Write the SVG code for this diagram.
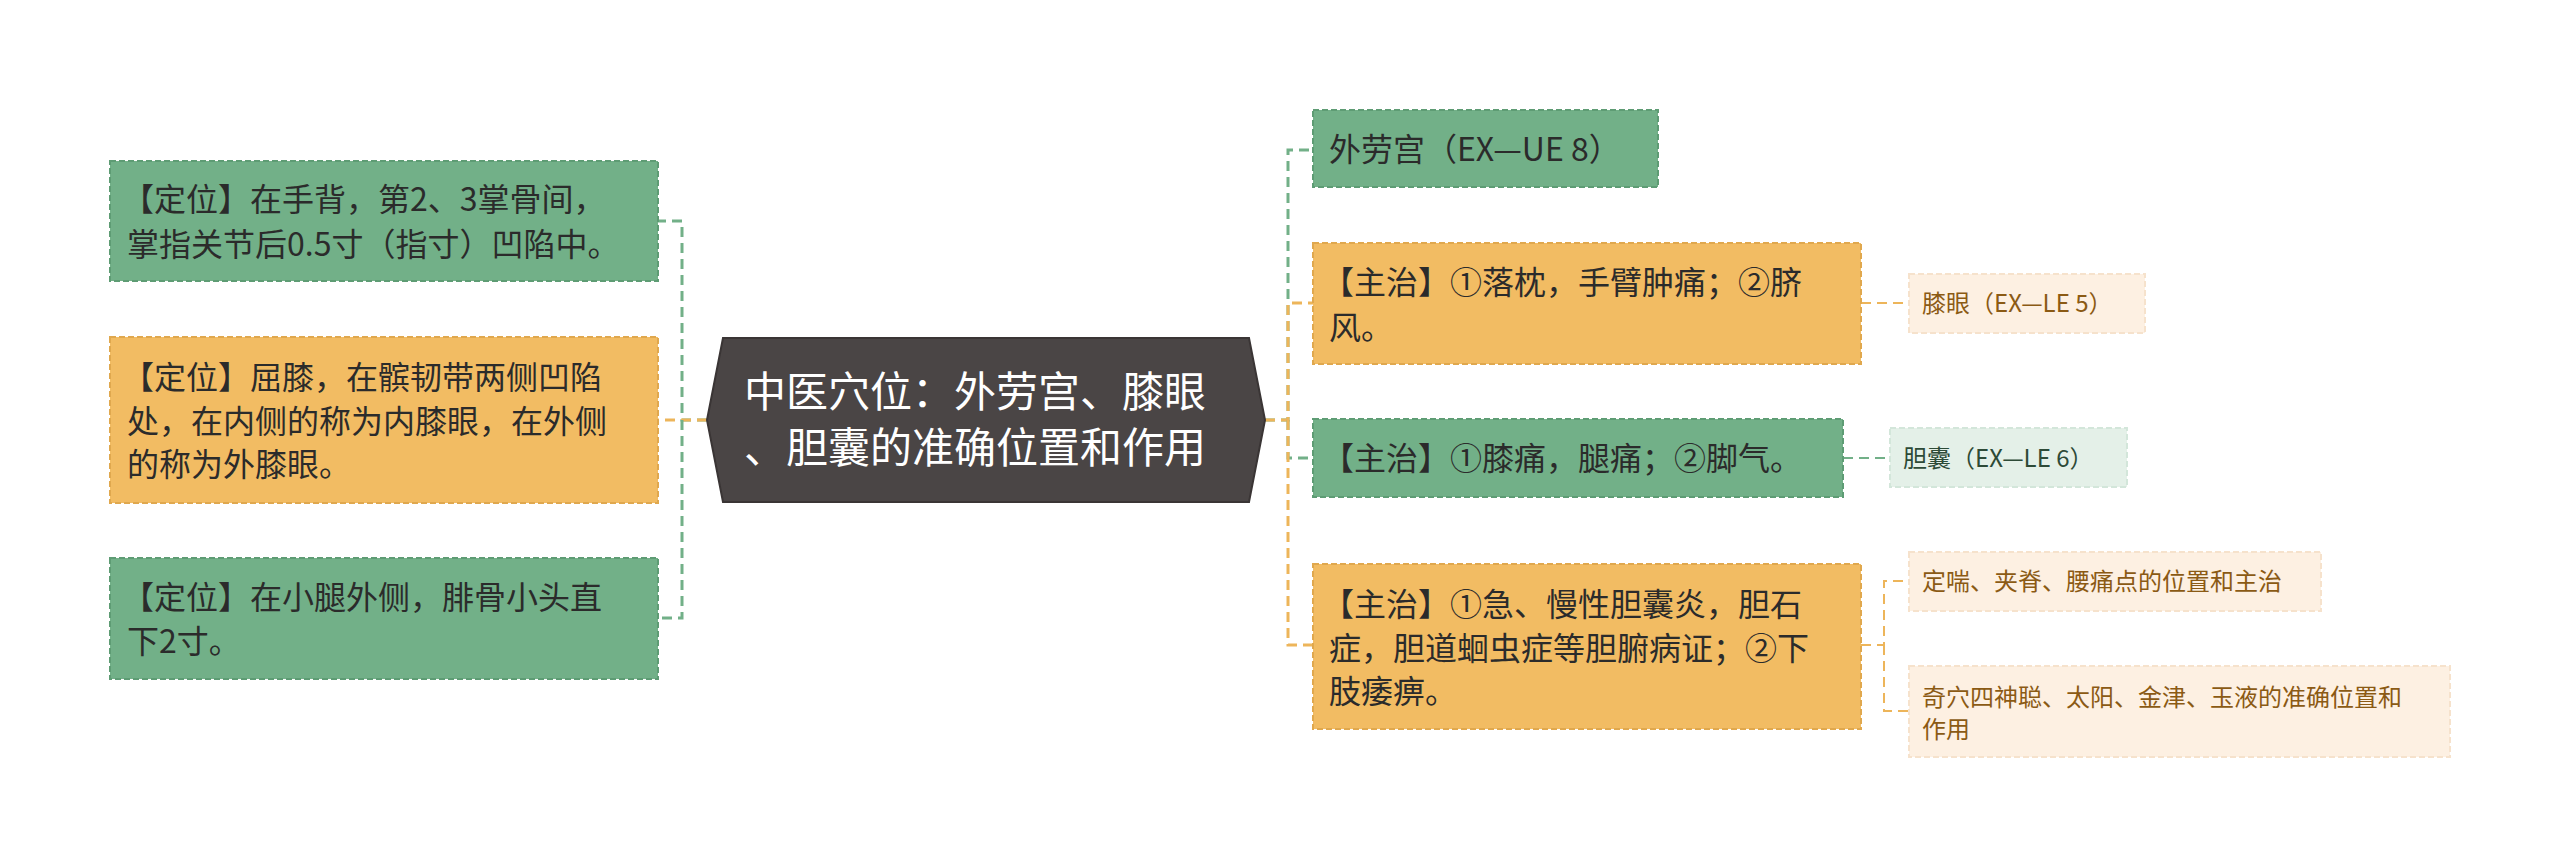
<svg xmlns="http://www.w3.org/2000/svg" width="2560" height="868" viewBox="0 0 2560 868">
<style>
text{font-family:"Noto Sans CJK SC","Liberation Sans",sans-serif;}
.g{fill:#72B088;stroke:#5E9C74;stroke-width:2;stroke-dasharray:6 3}
.o{fill:#F2BC63;stroke:#E0A84E;stroke-width:2;stroke-dasharray:6 3}
.lo{fill:#FDF0E2;stroke:#F6E2CC;stroke-width:2;stroke-dasharray:6 3}
.lg{fill:#E4F0E8;stroke:#D3E6DA;stroke-width:2;stroke-dasharray:6 3}
.t{font-size:32px;fill:#2B2B2B}
.s{font-size:24px}
.cg{fill:none;stroke:#72B088;stroke-width:3;stroke-dasharray:10 6}
.co{fill:none;stroke:#EDB55A;stroke-width:3;stroke-dasharray:10 6}
.cgs{fill:none;stroke:#72B088;stroke-width:2;stroke-dasharray:10 6}
.cos{fill:none;stroke:#EDB55A;stroke-width:2;stroke-dasharray:10 6}
</style>
<rect width="2560" height="868" fill="#ffffff"/>
<g id="connectors">
<path class="cg" d="M707 420H682V221H658"/>
<path class="co" d="M707 420H658"/>
<path class="cg" d="M682 420V618H658"/>
<path class="cg" d="M1265 420H1288V150H1313"/>
<path class="co" d="M1265 420H1288V303H1313"/>
<path class="cg" d="M1288 420V458H1313"/>
<path class="co" d="M1288 420V645H1313"/>
<path class="cos" d="M1861 303H1909"/>
<path class="cgs" d="M1843 458H1890"/>
<path class="cos" d="M1861 645H1884V581H1909M1884 645V711H1909"/>
</g>
<g id="center">
<polygon points="707,420 723,338 1249,338 1265,420 1249,502 723,502" fill="#4A4545" stroke="#3A3535" stroke-width="2"/>
<text x="744" y="407" font-size="42" fill="#ffffff">中医穴位：外劳宫、膝眼</text>
<text x="744" y="463" font-size="42" fill="#ffffff">、胆囊的准确位置和作用</text>
</g>
<g id="l1"><rect class="g" x="110" y="161" width="548" height="120"/>
<text class="t" x="122" y="211">【定位】在手背，第2、3掌骨间，</text><text class="t" x="127" y="256">掌指关节后0.5寸（指寸）凹陷中。</text></g>
<g id="l2"><rect class="o" x="110" y="337" width="548" height="166"/>
<text class="t" x="122" y="389">【定位】屈膝，在髌韧带两侧凹陷</text><text class="t" x="127" y="433">处，在内侧的称为内膝眼，在外侧</text><text class="t" x="127" y="476">的称为外膝眼。</text></g>
<g id="l3"><rect class="g" x="110" y="558" width="548" height="121"/>
<text class="t" x="122" y="609">【定位】在小腿外侧，腓骨小头直</text><text class="t" x="127" y="653">下2寸。</text></g>
<g id="r1"><rect class="g" x="1313" y="110" width="345" height="77"/>
<text class="t" x="1329" y="161">外劳宫（EX—UE 8）</text></g>
<g id="r2"><rect class="o" x="1313" y="243" width="548" height="121"/>
<text class="t" x="1322" y="294">【主治】①落枕，手臂肿痛；②脐</text><text class="t" x="1329" y="339">风。</text></g>
<g id="r3"><rect class="g" x="1313" y="419" width="530" height="78"/>
<text class="t" x="1322" y="470">【主治】①膝痛，腿痛；②脚气。</text></g>
<g id="r4"><rect class="o" x="1313" y="564" width="548" height="165"/>
<text class="t" x="1322" y="616">【主治】①急、慢性胆囊炎，胆石</text><text class="t" x="1329" y="660">症，胆道蛔虫症等胆腑病证；②下</text><text class="t" x="1329" y="703">肢痿痹。</text></g>
<g id="s1"><rect class="lo" x="1909" y="274" width="236" height="59"/>
<text class="s" x="1922" y="312" fill="#8B5A14">膝眼（EX—LE 5）</text></g>
<g id="s2"><rect class="lg" x="1890" y="428" width="237" height="59"/>
<text class="s" x="1903" y="467" fill="#2D4A37">胆囊（EX—LE 6）</text></g>
<g id="s3"><rect class="lo" x="1909" y="552" width="412" height="59"/>
<text class="s" x="1922" y="590" fill="#8B5A14">定喘、夹脊、腰痛点的位置和主治</text></g>
<g id="s4"><rect class="lo" x="1909" y="666" width="541" height="91"/>
<text class="s" x="1922" y="706" fill="#8B5A14">奇穴四神聪、太阳、金津、玉液的准确位置和</text><text class="s" x="1922" y="738" fill="#8B5A14">作用</text></g>
</svg>
